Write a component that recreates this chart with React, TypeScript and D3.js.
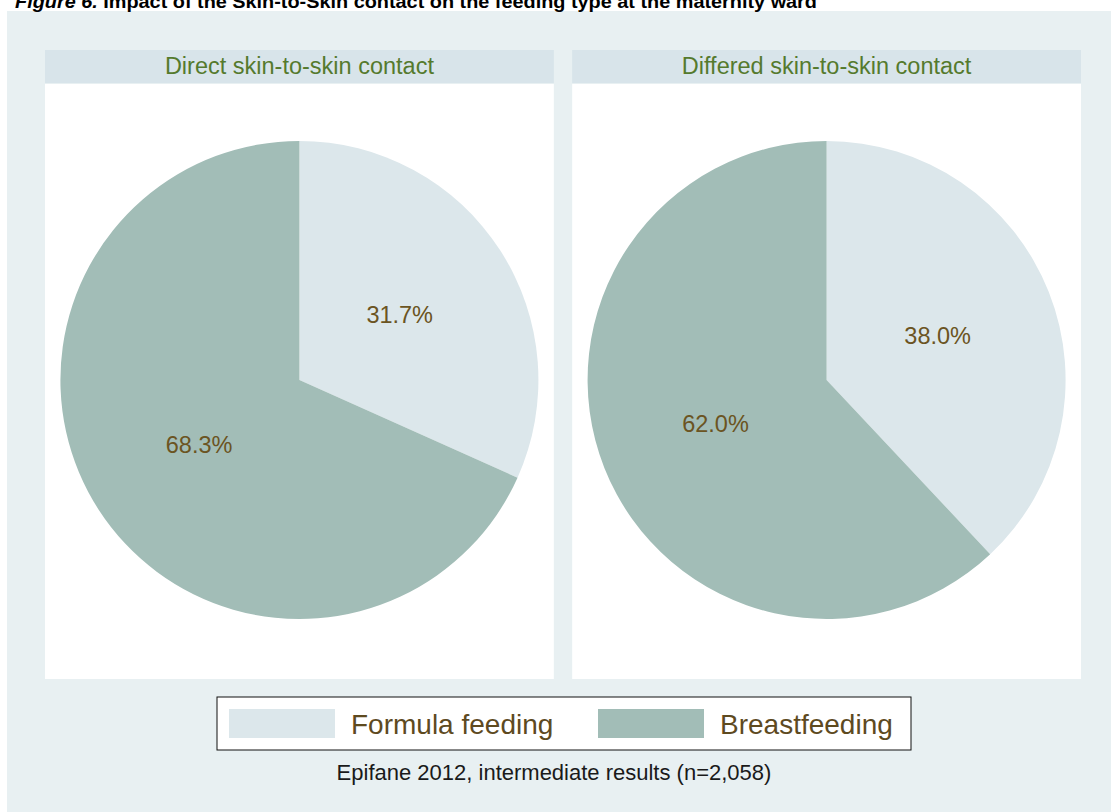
import React from "react";
import * as d3 from "d3";

const panelTitles = ["Direct skin-to-skin contact", "Differed skin-to-skin contact"];
const categories = ["Formula feeding", "Breastfeeding"];
const formulaFeeding = [31.7, 38.0];
const breastfeeding = [68.3, 62.0];
const footnote = "Epifane 2012, intermediate results (n=2,058)";

const W = 1111;
const H = 812;
const FONT = "'Liberation Sans', Arial, Helvetica, sans-serif";
const colors = ["#dce7eb", "#a2bdb7"];
const bgOuter = "#e8f0f2";
const headerFill = "#d8e4ea";
const headerText = "#557a2d";
const labelText = "#6b5422";
const legendText = "#5e4a1f";

export default function App() {
  const panelX = d3.scaleBand<string>().domain(panelTitles).range([45, 1081]).paddingInner(0.0348);
  const headerTop = 50;
  const headerBottom = 83;
  const plotTop = 84;
  const plotBottom = 679;
  const R = 239;
  const pie = d3.pie<number>().sort(null).value((d) => d);
  const arc = d3.arc<d3.PieArcDatum<number>>().innerRadius(0).outerRadius(R);
  const labelArc = d3.arc<d3.PieArcDatum<number>>().innerRadius(R * 0.5).outerRadius(R * 0.5);
  const fmt = (v: number) => d3.format(".1f")(v) + "%";

  const legendX = d3.scalePoint<string>().domain(categories).range([229, 598]);

  return (
    <div style={{ position: "absolute", left: 0, top: 0, width: W, height: H }}>
      <svg width={W} height={H} style={{ display: "block", background: "#fff" }} fontFamily={FONT}>
        <rect x={7} y={11} width={W - 7} height={H - 11} fill={bgOuter} />
        <text
          x={15}
          y={7.5}
          fontSize={19}
          fontWeight="bold"
          fill="#000"
          textLength={802}
          lengthAdjust="spacingAndGlyphs"
          fontFamily="'Liberation Sans Narrow', 'Arial Narrow', 'Liberation Sans', Arial, sans-serif"
        >
          <tspan fontStyle="italic">Figure 6.</tspan>
          <tspan> Impact of the Skin-to-Skin contact on the feeding type at the maternity ward</tspan>
        </text>
        {panelTitles.map((title, i) => {
          const x0 = panelX(title)!;
          const bw = panelX.bandwidth();
          const cx = x0 + bw / 2;
          const cy = (plotTop + plotBottom) / 2 - 1.5;
          const arcs = pie([formulaFeeding[i], breastfeeding[i]]);
          return (
            <g key={title}>
              <rect x={x0} y={headerTop} width={bw} height={headerBottom - headerTop} fill={headerFill} />
              <text x={cx} y={74} textAnchor="middle" fontSize={23.5} fill={headerText}>
                {title}
              </text>
              <rect x={x0} y={plotTop} width={bw} height={plotBottom - plotTop} fill="#fff" />
              <g transform={`translate(${cx},${cy})`}>
                {arcs.map((a, j) => (
                  <path key={j} d={arc(a)!} fill={colors[j]} />
                ))}
                {arcs.map((a, j) => {
                  const [lx, ly] = labelArc.centroid(a);
                  return (
                    <text
                      key={"l" + j}
                      x={lx}
                      y={ly}
                      dy="0.35em"
                      textAnchor="middle"
                      fontSize={23.5}
                      fill={labelText}
                    >
                      {fmt(a.data)}
                    </text>
                  );
                })}
              </g>
            </g>
          );
        })}
        <rect x={217} y={697} width={694} height={53} fill="#fff" stroke="#111" strokeWidth={1} />
        {categories.map((c, i) => {
          const sx = legendX(c)!;
          return (
            <g key={c}>
              <rect x={sx} y={709} width={106} height={29} fill={colors[i]} />
              <text x={sx + 122} y={734} fontSize={28} fill={legendText}>
                {c}
              </text>
            </g>
          );
        })}
        <text x={554} y={780} textAnchor="middle" fontSize={22} fill="#1a1a1a">
          {footnote}
        </text>
      </svg>
    </div>
  );
}
